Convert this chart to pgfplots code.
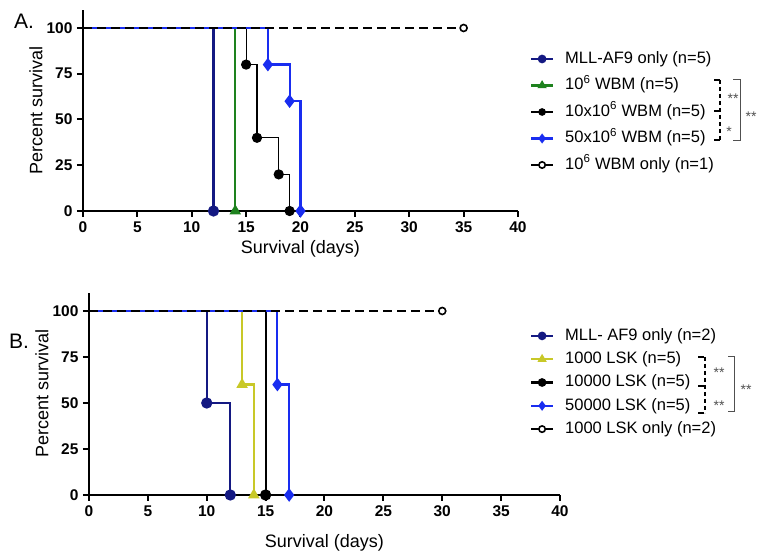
\documentclass[border=0pt]{standalone}
\usepackage{pgfplots}
\pgfplotsset{compat=1.18}
\usepackage{fontspec}
\setmainfont{Liberation Sans}
\definecolor{cnavy}{RGB}{20,25,130}
\definecolor{cblue}{RGB}{25,45,240}
\definecolor{cgreen}{RGB}{30,130,30}
\definecolor{cyellow}{RGB}{200,200,40}
\definecolor{cstar}{RGB}{80,80,80}
\pgfplotsset{
  km/.style={
    scale only axis,
    axis x line*=bottom, axis y line*=left,
    axis line style={line width=2.5pt, black},
    xmin=0, xmax=40, ymin=0, ymax=110,
    xtick={0,5,...,40}, ytick={0,25,50,75,100},
    tick align=outside, major tick length=6pt,
    every tick/.style={line width=2pt, black},
    minor tick num=0,
    clip=false,
    /pgf/number format/assume math mode=true,
    xticklabel={\textbf{\pgfmathprintnumber{\tick}}},
    yticklabel={\textbf{\pgfmathprintnumber{\tick}}},
    ticklabel style={font=\fontsize{15.5}{15.5}\selectfont},
    xticklabel style={yshift=-1pt},
    yticklabel style={xshift=-1pt},
    label style={font=\fontsize{18}{18}\selectfont},
    legend cell align=left,
    legend image code/.code={\draw[##1, mark indices={2}] plot coordinates {(0pt,0pt)(11pt,0pt)(22pt,0pt)};},
    legend image post style={mark size=3.2pt},
  },
  st/.style={const plot, line width=2.2pt},
}
\begin{document}
\begin{tikzpicture}
\useasboundingbox (0,0) rectangle (764pt,553pt);
% ---------------- Panel A
\begin{axis}[km,
  width=435pt, height=201.3pt,
  at={(83pt,342pt)}, anchor=south west,
  xlabel={Survival (days)}, ylabel={Percent survival},
  xlabel style={at={(axis description cs:0.5,-0.19)}, anchor=center},
  ylabel style={at={(axis description cs:-0.108,0.5)}, anchor=center, rotate=0},
  legend style={draw=none, fill=none, inner sep=0pt, outer sep=0pt,
    at={(axis description cs:1.0276,0.4918)}, anchor=west,
    font=\fontsize{16.5}{18}\selectfont, row sep=11pt,
    nodes={inner sep=0pt, text height=12pt, text depth=3.5pt},
    /tikz/every odd column/.append style={column sep=11pt}},
]
\addplot[st, cnavy, mark=*, mark size=4.5pt, mark indices={2}] coordinates {(0,100)(12,0)};
\addlegendentry{MLL-AF9 only (n=5)}
\addplot[st, cgreen, mark=triangle*, mark size=4.5pt, mark indices={2}] coordinates {(0,100)(14,0)};
\addlegendentry{10\textsuperscript{6} WBM (n=5)}
\addplot[const plot, line width=1.2pt, black, mark=*, mark size=4.5pt, mark indices={2,3,4,5}] coordinates {(0,100)(15,80)(16,40)(18,20)(19,0)};
\addlegendentry{10x10\textsuperscript{6} WBM (n=5)}
\addplot[st, cblue, mark=diamond*, mark size=5pt, mark indices={2,3,4}] coordinates {(0,100)(17,80)(19,60)(20,0)};
\addlegendentry{50x10\textsuperscript{6} WBM (n=5)}
\addplot[forget plot, black, line width=2.7pt, dash pattern=on 9pt off 5pt] coordinates {(0,100)(35,100)};
\addplot[black, line width=2pt, mark=*, mark size=3.5pt, mark options={fill=white, line width=1.6pt}] coordinates {(35,100)};
\addlegendentry{10\textsuperscript{6} WBM only (n=1)}
\end{axis}
% ---------------- Panel B
\begin{axis}[km,
  width=471pt, height=202.4pt,
  at={(89pt,58pt)}, anchor=south west,
  xlabel={Survival (days)}, ylabel={Percent survival},
  xlabel style={at={(axis description cs:0.5,-0.237)}, anchor=center},
  ylabel style={at={(axis description cs:-0.0998,0.5)}, anchor=center, rotate=0},
  legend style={draw=none, fill=none, inner sep=0pt, outer sep=0pt,
    at={(axis description cs:0.9363,0.5558)}, anchor=west,
    font=\fontsize{16.5}{18}\selectfont, row sep=7.8pt,
    nodes={inner sep=0pt, text height=12pt, text depth=3.5pt},
    /tikz/every odd column/.append style={column sep=11pt}},
]
\addplot[st, cnavy, mark=*, mark size=4.5pt, mark indices={2,3}] coordinates {(0,100)(10,50)(12,0)};
\addlegendentry{MLL- AF9 only (n=2)}
\addplot[st, cyellow, mark=triangle*, mark size=4.5pt, mark indices={2,3}] coordinates {(0,100)(13,60)(14,0)};
\addlegendentry{1000 LSK (n=5)}
\addplot[st, black, mark=*, mark size=4.5pt, mark indices={2}] coordinates {(0,100)(15,0)};
\addlegendentry{10000 LSK (n=5)}
\addplot[st, cblue, mark=diamond*, mark size=5pt, mark indices={2,3}] coordinates {(0,100)(16,60)(17,0)};
\addlegendentry{50000 LSK (n=5)}
\addplot[forget plot, black, line width=2.7pt, dash pattern=on 9pt off 5pt] coordinates {(0,100)(30,100)};
\addplot[black, line width=2pt, mark=*, mark size=3.5pt, mark options={fill=white, line width=1.6pt}] coordinates {(30,100)};
\addlegendentry{1000 LSK only (n=2)}
\end{axis}
% ---------------- panel letters
\node[font=\fontsize{21}{21}\selectfont] at (24pt,532pt) {A.};
\node[font=\fontsize{21}{21}\selectfont] at (19pt,212pt) {B.};
% ---------------- significance brackets A
\begin{scope}[line width=1.3pt]
\draw[dash pattern=on 4pt off 3pt] (720pt,473pt) -- (720pt,413pt);
\draw (714pt,473pt) -- (720pt,473pt);
\draw (714pt,442pt) -- (720pt,442pt);
\draw (714pt,413pt) -- (720pt,413pt);
\draw[line width=1pt, cstar] (733pt,473pt) -- (740pt,473pt) -- (740pt,412pt) -- (733pt,412pt);
\end{scope}
\begin{scope}[every node/.style={font=\fontsize{14}{14}\selectfont, text=cstar, inner sep=0pt}]
\node at (733pt,454pt) {**};
\node at (729pt,421pt) {*};
\node at (751pt,436pt) {**};
% ---------------- significance brackets B
\node at (719pt,180pt) {**};
\node at (719pt,147pt) {**};
\node at (746pt,163pt) {**};
\end{scope}
\begin{scope}[line width=1.3pt]
\draw[dash pattern=on 4pt off 3pt] (705pt,196pt) -- (705pt,140pt);
\draw (698pt,196pt) -- (704pt,196pt);
\draw (698pt,167pt) -- (704pt,167pt);
\draw (698pt,140pt) -- (704pt,140pt);
\draw[line width=1pt, cstar] (728pt,196pt) -- (734pt,196pt) -- (734pt,141pt) -- (728pt,141pt);
\end{scope}
\end{tikzpicture}
\end{document}
